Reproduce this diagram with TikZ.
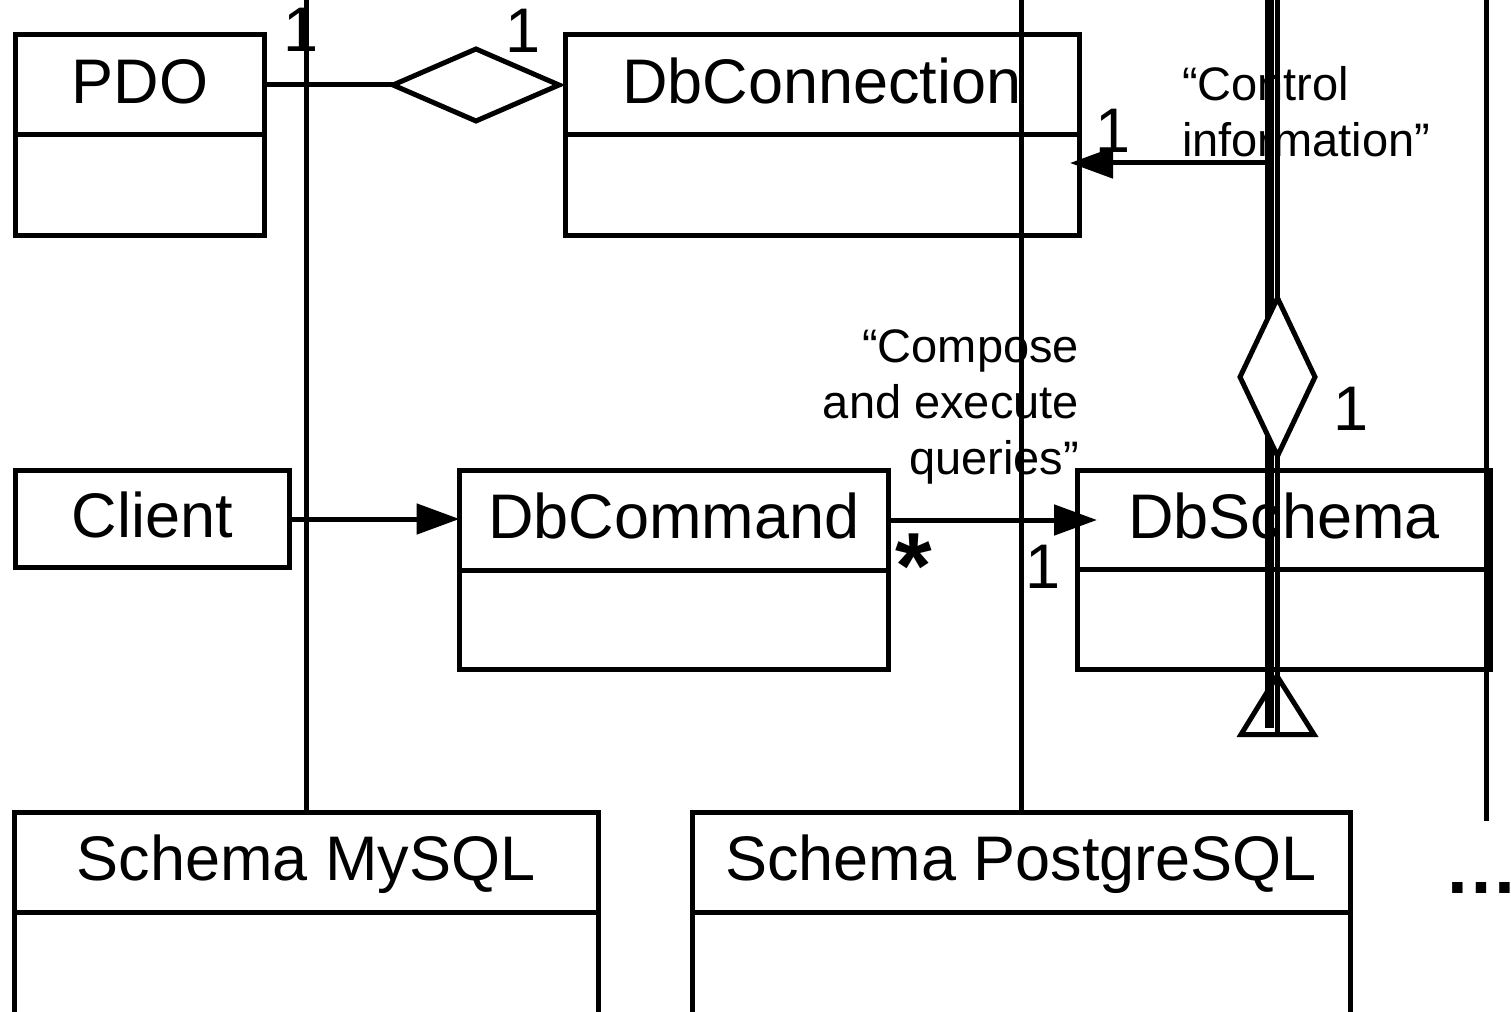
\documentclass[tikz,border=0pt]{standalone}
\usepackage{fontspec}
\setmainfont{Liberation Sans}
\usetikzlibrary{arrows.meta,shapes.geometric}
\begin{document}
\begin{tikzpicture}[x=1pt,y=-1pt,
  every node/.style={inner sep=0pt, outer sep=0pt},
  lw/.style={line width=5pt},
  big/.style={font=\fontsize{63}{75}\selectfont},
  mid/.style={font=\fontsize{47}{56}\selectfont},
  hdr/.style={draw, lw, fill=white, big, minimum height=100pt, text height=45.4pt, text depth=7.5pt},
  bdy/.style={draw, lw, fill=white, minimum height=100pt, anchor=north},
  arr/.style={lw, -{Triangle[length=43pt,width=30pt]}},
  mult/.style={big, anchor=base west},
  aggr/.style={diamond, draw, lw, fill=white},
]
\useasboundingbox (0,0) rectangle (1511,1011);
\clip (0,0) rectangle (1511,1011);

% classes
\node[hdr, minimum width=249pt] (pdo) at (140,85) {PDO};
\node[bdy, minimum width=249pt] (pdob) at (pdo.south) {};
\node[hdr, minimum width=514pt] (conn) at (822,85) {DbConnection};
\node[bdy, minimum width=514pt] (connb) at (conn.south) {};
\node[hdr, minimum width=274.5pt, minimum height=97.5pt] (client) at (152.25,519) {Client};
\node[hdr, minimum width=429pt] (cmd) at (674,520) {DbCommand};
\node[bdy, minimum width=429pt, minimum height=99.5pt] (cmdb) at (cmd.south) {};
\node[hdr, minimum width=413pt, minimum height=99.5pt] (schema) at (1284,519.75) {DbSchema};
\node[bdy, minimum width=413pt] (schemab) at (schema.south) {};
\node[hdr, minimum width=584pt] (mysql) at (306,862) {Schema MySQL};
\node[bdy, minimum width=584pt, minimum height=104pt] (mysqlb) at (mysql.south) {};
\node[hdr, minimum width=658pt] (pg) at (1021,862) {Schema PostgreSQL};
\node[bdy, minimum width=658pt, minimum height=104pt] (pgb) at (pg.south) {};

% labels
\node[mid, anchor=base west, align=left] (ctl) at (1182,157) {“Control\\information”};
\node[mid, anchor=base east, align=right] (cmp) at (1079,474) {“Compose\\and execute\\queries”};
\node[mult] (m1) at (283,52) {1};
\node[mult] (m2) at (505,53) {1};
\node[mult] (m3) at (1095,153) {1};
\node[mult] (m4) at (1025,588) {1};
\node[mult] (m5) at (1333,430) {1};
\node[font=\fontsize{94}{94}\selectfont\bfseries, anchor=base west] (m6) at (895,598) {*};
\node[font=\fontsize{74}{74}\selectfont\bfseries, anchor=base west] (dots) at (1444,893) {…};

% aggregation PDO - DbConnection
\node[aggr, minimum width=166pt, minimum height=72pt] (agg1) at (476,85) {};
\draw[lw] (pdo.east) -- (agg1.west);

% arrows
\draw[arr] (client.east) -- (client.east -| cmd.west);
\draw[arr, shorten >=-19.5pt] (cmd.east) -- (cmd.east -| schema.west);
\coordinate (ci) at (1269,163);
\draw[arr, shorten >=-9pt] (ci) -- (ci -| connb.east);

% vertical lines
\coordinate (t1) at (306,-5);
\draw[lw] (t1) -- (mysql.north);
\coordinate (t2) at (1021,-5);
\draw[lw] (t2) -- (pg.north);
\coordinate (t3) at (1486.5,-5);
\coordinate (b3) at (1486.5,821);
\draw[lw] (t3) -- (b3);
\coordinate (tk1) at (1269.5,-5);
\coordinate (tk2) at (1269.5,728);
\draw[line width=9pt] (tk1) -- (tk2);
\coordinate (tn1) at (1277.5,-5);
\coordinate (tn2) at (1277.5,737);
\draw[line width=5pt] (tn1) -- (tn2);

% aggregation on DbSchema line
\node[aggr, minimum width=75pt, minimum height=158pt] (agg2) at (1277.5,377) {};

% inheritance triangle
\coordinate (trl) at (1241,734.5);
\coordinate (trt) at (1277,676);
\coordinate (trr) at (1314,734.5);
\draw[lw, line join=miter] (trl) -- (trt) -- (trr) -- cycle;
\end{tikzpicture}
\end{document}
